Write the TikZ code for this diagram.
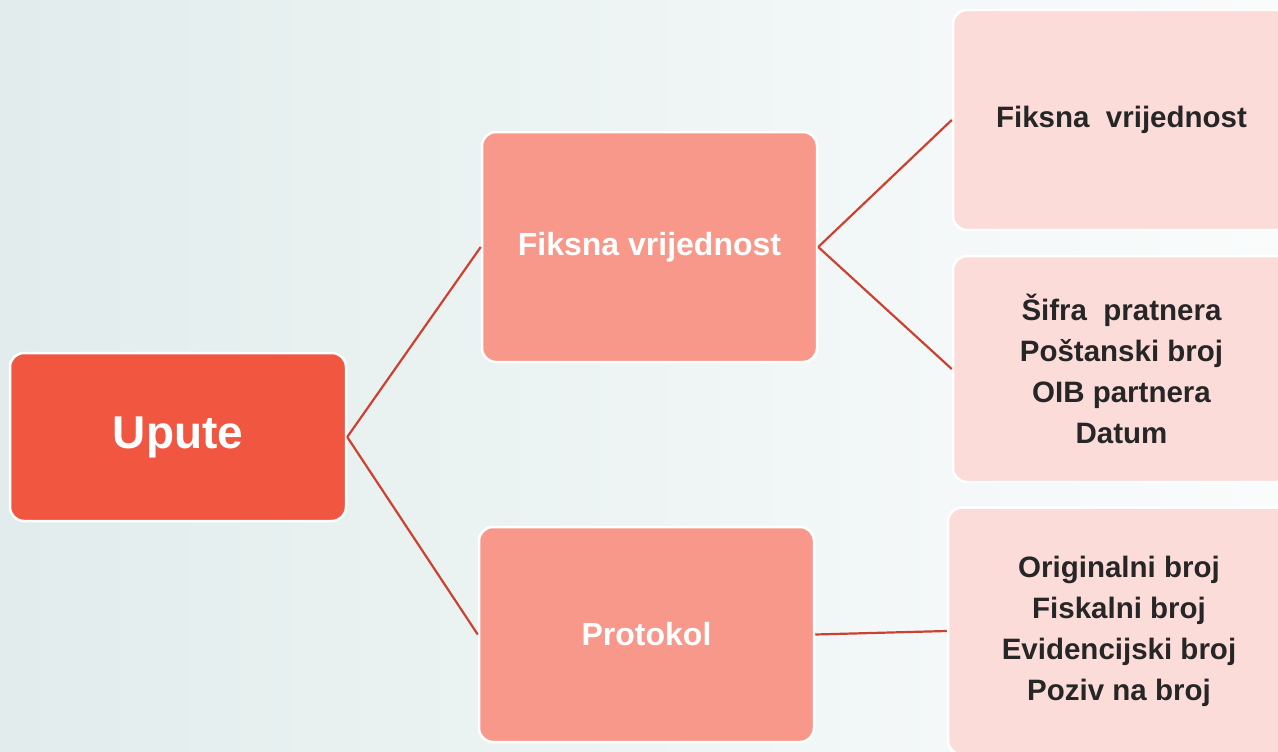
\documentclass[tikz,border=0pt]{standalone}
\usepackage{fontspec}
\setmainfont{Liberation Sans}
\definecolor{bgL}{RGB}{226,236,236}
\definecolor{bgR}{RGB}{250,252,252}
\definecolor{rootc}{RGB}{241,86,65}
\definecolor{midc}{RGB}{247,152,138}
\definecolor{leafc}{RGB}{252,220,217}
\definecolor{linec}{RGB}{204,66,48}
\definecolor{txtd}{RGB}{38,38,38}
\begin{document}
\begin{tikzpicture}[x=1pt,y=-1pt,
  box/.style={rectangle,rounded corners=14pt,draw=white,line width=2.5pt,inner sep=0pt,align=center,font=\bfseries},
  rootbox/.style={box,fill=rootc,text=white,font=\bfseries\fontsize{46}{52}\selectfont},
  midbox/.style={box,fill=midc,text=white,font=\bfseries\fontsize{32}{38}\selectfont},
  leafbox/.style={box,fill=leafc,text=txtd,font=\bfseries\fontsize{29.5}{41}\selectfont},
  conn/.style={draw=linec,line width=2.2pt}]
\useasboundingbox (0,0) rectangle (1278,752);
\shade[left color=bgL,right color=bgR] (0,0) rectangle (1278,752);
\node[rootbox,minimum width=336pt,minimum height=168pt] (root) at (178,437) {Upute};
\node[midbox,minimum width=335pt,minimum height=230pt] (fv) at (649.5,247) {Fiksna vrijednost};
\node[midbox,minimum width=335pt,minimum height=215pt] (pr) at (646.5,634.5) {Protokol};
\node[leafbox,minimum width=337pt,minimum height=220pt] (r1) at (1121.5,120) {Fiksna\ \ vrijednost};
\node[leafbox,minimum width=337pt,minimum height=226pt] (r2) at (1121.5,369) {Šifra\ \ pratnera\\Poštanski broj\\OIB partnera\\Datum};
\node[leafbox,minimum width=342pt,minimum height=247pt] (r3) at (1119,631) {Originalni broj\\Fiskalni broj\\Evidencijski broj\\Poziv na broj};
\draw[conn] (root.east) -- (fv.west);
\draw[conn] (root.east) -- (pr.west);
\draw[conn] (fv.east) -- (r1.west);
\draw[conn] (fv.east) -- (r2.west);
\draw[conn] (pr.east) -- (r3.west);
\end{tikzpicture}
\end{document}
